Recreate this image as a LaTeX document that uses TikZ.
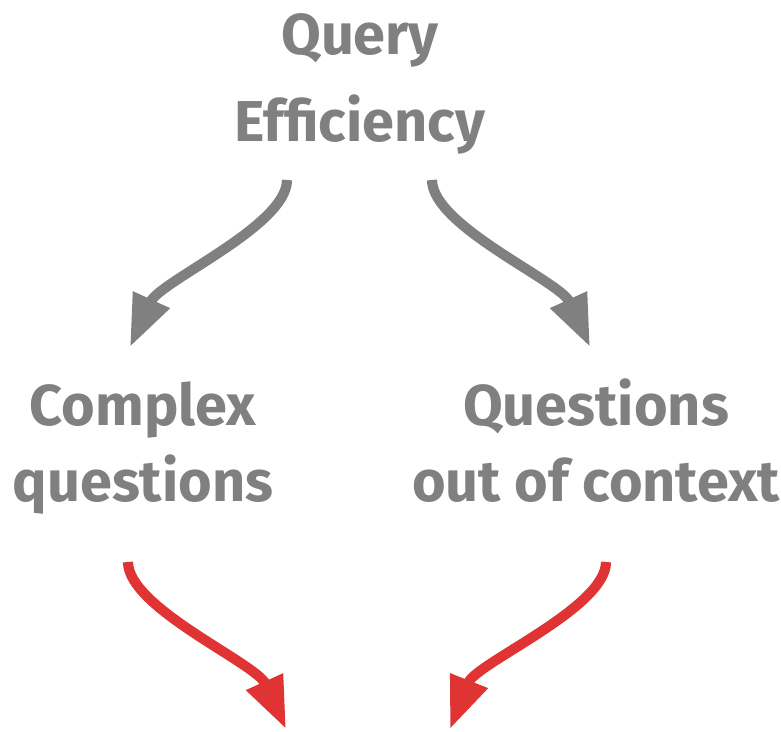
\documentclass[tikz,border=0pt]{standalone}
\usepackage{fontspec}
\usepackage{tikz}
\usetikzlibrary{positioning,arrows.meta}
\newfontfamily\labelfont{Fira Sans}
\definecolor{textgray}{RGB}{128,128,128}
\definecolor{arrowred}{RGB}{224,51,51}

\begin{document}
\begin{tikzpicture}[
x=0.025cm,y=0.025cm,
>={Triangle[length=13mm,width=9.5mm]},
toplabel/.style={
text=textgray,
align=center,
anchor=base,
inner sep=0pt,
font=\labelfont\bfseries\fontsize{41pt}{62pt}\selectfont
},
label/.style={
text=textgray,
align=center,
anchor=base,
inner sep=0pt,
font=\labelfont\bfseries\fontsize{41pt}{54pt}\selectfont
},
grayarrow/.style={->,line width=7.2pt,draw=textgray},
redarrow/.style={->,line width=7.2pt,draw=arrowred}
]
\useasboundingbox (0,0) rectangle (781,731);

%---------------- Top ----------------%

\node[toplabel] (query) at (360,589) {Query\\Efficiency};

\coordinate (qleft) at (287,551);
\coordinate (qright) at (432,551);

%---------------- Middle ----------------%

\node[label] (complex) at (143,230) {Complex\\questions};

\node[label] (context) at (596,230) {Questions\\out of context};

\coordinate (cstart) at (128,169);
\coordinate (ostart) at (606,169);

%---------------- Bottom ----------------%

\coordinate (cend) at (286,2);
\coordinate (oend) at (450,2);

%---------------- Connections ----------------%

\draw[grayarrow] (qleft) .. controls (287,505) and (160,450) .. (130,384);
\draw[grayarrow] (qright) .. controls (432,505) and (560,450) .. (590,384);

\draw[redarrow] (cstart) .. controls (128,123) and (256,68) .. (cend);
\draw[redarrow] (ostart) .. controls (606,123) and (476,68) .. (oend);

\end{tikzpicture}
\end{document}
